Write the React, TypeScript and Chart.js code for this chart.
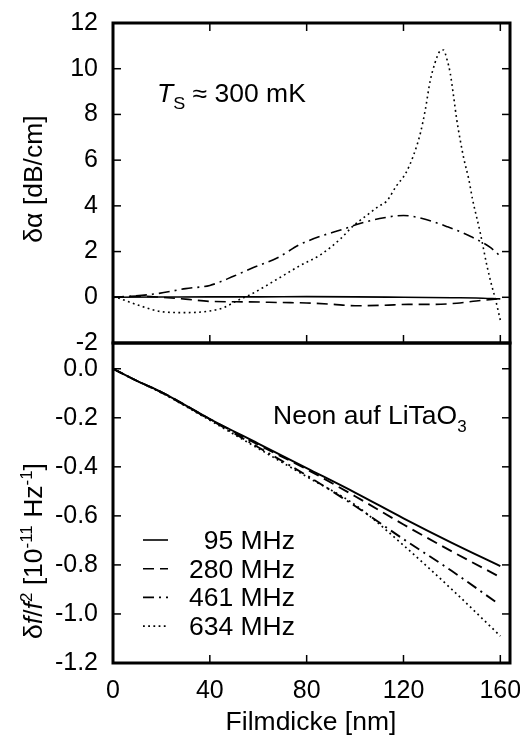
import React, { useEffect, useRef } from "react";
import { Chart, registerables } from "chart.js";
Chart.register(...registerables);

const FONT = "'Liberation Sans', Arial, Helvetica, sans-serif";
const FS = 25;
const SX = 1.06;

// ---------- data ----------
const legendLabels = ["95 MHz", "280 MHz", "461 MHz", "634 MHz"];
const xTicks = [0, 40, 80, 120, 160];
const alphaTicks = [-2, 0, 2, 4, 6, 8, 10, 12];
const freqTicks = [-1.2, -1.0, -0.8, -0.6, -0.4, -0.2, 0.0];

// top panel: δα [dB/cm] vs film thickness [nm]
const alphaX95 = [0, 20, 40, 60, 80, 100, 120, 140, 150, 160];
const alpha95 = [0, 0.01, 0.02, 0.02, 0.03, 0.02, 0.0, -0.02, -0.03, -0.07];

const alphaX280 = [0, 10, 20, 30, 40, 55, 70, 80, 90, 100, 112, 122, 132, 142, 150, 160];
const alpha280 = [0, 0.05, 0, -0.08, -0.18, -0.2, -0.23, -0.25, -0.3, -0.37, -0.35, -0.31, -0.31, -0.26, -0.16, -0.06];

const alphaX461 = [0, 8, 19, 30, 40, 50, 58, 68, 77, 86, 94, 102, 112, 120, 130, 138, 148, 156, 160];
const alpha461 = [0, 0.05, 0.17, 0.38, 0.52, 0.93, 1.3, 1.73, 2.3, 2.68, 2.94, 3.23, 3.48, 3.58, 3.38, 3.09, 2.65, 2.17, 1.8];

const alphaX634 = [0, 2, 7, 12, 20, 30, 40, 46, 51, 57, 63, 70, 77, 86, 94, 99, 105, 110, 113, 117, 121, 124, 127, 129, 131, 133, 135, 136.5, 138, 139.3, 140.7, 142, 143.4, 145, 147, 148.5, 151.7, 154.5, 156.5, 158, 160];
const alpha634 = [0, -0.03, -0.22, -0.4, -0.63, -0.67, -0.6, -0.44, -0.16, 0.13, 0.49, 0.93, 1.37, 1.88, 2.56, 3.1, 3.6, 4.0, 4.2, 4.86, 5.44, 6.17, 7.19, 8.2, 9.45, 10.25, 10.76, 10.82, 10.39, 9.81, 8.79, 7.77, 6.9, 6.03, 5.15, 4.3, 2.83, 1.37, 0.49, -0.09, -1.0];

// bottom panel: δf/f² [1e-11 Hz^-1]
const freqX = [0, 10, 20, 40, 60, 80, 100, 120, 140, 160];
const freq95 = [0, -0.05, -0.095, -0.205, -0.305, -0.405, -0.505, -0.61, -0.71, -0.805];
const freq280 = [0, -0.05, -0.095, -0.205, -0.31, -0.41, -0.52, -0.635, -0.745, -0.85];
const freqX461 = [0, 10, 20, 40, 60, 80, 100, 120, 140, 158];
const freq461 = [0, -0.05, -0.097, -0.207, -0.32, -0.435, -0.56, -0.695, -0.825, -0.95];
const freq634 = [0, -0.05, -0.098, -0.21, -0.325, -0.44, -0.555, -0.72, -0.9, -1.09];

// ---------- styles ----------
const dashes: number[][] = [[], [11, 6], [11, 5, 2, 5], [1.8, 3.4]];

function pts(xs: number[], ys: number[]) {
  return xs.map((x, i) => ({ x, y: ys[i] }));
}

type Seg = { t: string; italic?: boolean; size?: number; dy?: number };

function drawRich(ctx: CanvasRenderingContext2D, segs: Seg[], x: number, y: number, align: "left" | "center" | "right", base = FS) {
  const fontOf = (s: Seg) => `${s.italic ? "italic " : ""}${s.size ?? base}px ${FONT}`;
  let total = 0;
  for (const s of segs) {
    ctx.font = fontOf(s);
    total += ctx.measureText(s.t).width;
  }
  ctx.save();
  ctx.translate(x, y);
  ctx.scale(SX, 1);
  let cx = align === "left" ? 0 : align === "center" ? -total / 2 : -total;
  ctx.textAlign = "left";
  ctx.textBaseline = "alphabetic";
  for (const s of segs) {
    ctx.font = fontOf(s);
    ctx.fillText(s.t, cx, s.dy ?? 0);
    cx += ctx.measureText(s.t).width;
  }
  ctx.restore();
}

const decorPlugin = {
  id: "decor",
  afterDraw(chart: any) {
    const ctx: CanvasRenderingContext2D = chart.ctx;
    const xs = chart.scales.x;
    const yt = chart.scales.yTop;
    const yb = chart.scales.yBot;
    const L = chart.chartArea.left;
    const R = chart.chartArea.right;
    const TL = 8;
    ctx.save();
    ctx.strokeStyle = "#000";
    ctx.fillStyle = "#000";
    const line = (a: number, b: number, c: number, d: number) => {
      ctx.beginPath();
      ctx.moveTo(a, b);
      ctx.lineTo(c, d);
      ctx.stroke();
    };
    ctx.lineWidth = 1.5;
    for (const s of [yt, yb]) {
      for (const t of s.ticks) {
        const py = s.getPixelForValue(t.value);
        if (Math.abs(py - s.top) < 2 || Math.abs(py - s.bottom) < 2) continue;
        line(L, py, L + TL, py);
        line(R, py, R - TL, py);
      }
    }
    for (const t of xs.ticks) {
      const px = xs.getPixelForValue(t.value);
      if (Math.abs(px - L) < 2 || Math.abs(px - R) < 2) continue;
      line(px, yt.top, px, yt.top + TL);
      line(px, yt.bottom, px, yt.bottom - TL);
      line(px, yb.bottom, px, yb.bottom - TL);
    }
    ctx.lineWidth = 3;
    ctx.strokeRect(L, yt.top, R - L, yt.bottom - yt.top);
    ctx.strokeRect(L, yb.top, R - L, yb.bottom - yb.top);

    // legend
    const ds = chart.data.datasets.slice(4);
    ds.forEach((d: any, i: number) => {
      const cy = yb.top + 197 + i * 28.7;
      ctx.lineWidth = 1.6;
      ctx.setLineDash(dashes[i]);
      line(L + 30, cy, L + 55, cy);
      ctx.setLineDash([]);
      drawRich(ctx, [{ t: legendLabels[i] }], L + 182, cy + 9, "right");
    });

    // annotations
    drawRich(ctx, [
      { t: "T", italic: true },
      { t: "S", size: 17, dy: 7 },
      { t: " \u2248 300 mK" },
    ], L + 44, yt.top + 79, "left");
    drawRich(ctx, [
      { t: "Neon auf LiTaO" },
      { t: "3", size: 16, dy: 8 },
    ], L + 160, yb.top + 81, "left");

    // axis titles
    drawRich(ctx, [{ t: "Filmdicke [nm]" }], 311, 730, "center");

    ctx.save();
    ctx.translate(42, (yt.top + yt.bottom) / 2 - 4);
    ctx.rotate(-Math.PI / 2);
    drawRich(ctx, [{ t: "\u03b4\u03b1 [dB/cm]" }], 0, 0, "center");
    ctx.restore();

    ctx.save();
    ctx.translate(42, 551);
    ctx.rotate(-Math.PI / 2);
    drawRich(ctx, [
      { t: "\u03b4" },
      { t: "f", italic: true },
      { t: "/" },
      { t: "f", italic: true },
      { t: "2", size: 16, dy: -10 },
      { t: " [10" },
      { t: "-11", size: 16, dy: -10 },
      { t: " Hz" },
      { t: "-1", size: 16, dy: -10 },
      { t: "]" },
    ], 0, 0, "center");
    ctx.restore();
    ctx.restore();
  },
};

export default function App() {
  const ref = useRef<HTMLCanvasElement>(null);
  useEffect(() => {
    if (!ref.current) return;
    const mk = (label: string, data: any[], i: number, axis: string, w: number) => ({
      label,
      data,
      yAxisID: axis,
      borderColor: "#000",
      borderWidth: w,
      borderDash: dashes[i],
      pointRadius: 0,
      fill: false,
      cubicInterpolationMode: "monotone" as const,
    });
    const yAfterFit = (s: any) => {
      s.width = 113;
      s.paddingTop = 0;
      s.paddingBottom = 0;
    };
    const chart = new Chart(ref.current, {
      type: "line",
      data: {
        datasets: [
          mk(legendLabels[0], pts(alphaX95, alpha95), 0, "yTop", 1.6),
          mk(legendLabels[1], pts(alphaX280, alpha280), 1, "yTop", 1.6),
          mk(legendLabels[2], pts(alphaX461, alpha461), 2, "yTop", 1.6),
          mk(legendLabels[3], pts(alphaX634, alpha634), 3, "yTop", 1.6),
          mk(legendLabels[0], pts(freqX, freq95), 0, "yBot", 1.9),
          mk(legendLabels[1], pts(freqX, freq280), 1, "yBot", 1.9),
          mk(legendLabels[2], pts(freqX461, freq461), 2, "yBot", 1.9),
          mk(legendLabels[3], pts(freqX, freq634), 3, "yBot", 1.7),
        ],
      },
      options: {
        animation: false,
        responsive: false,
        devicePixelRatio: 1,
        layout: { padding: { left: 0, right: 10, top: 23, bottom: 0 } },
        plugins: { legend: { display: false }, tooltip: { enabled: false } },
        scales: {
          x: {
            type: "linear",
            min: 0,
            max: 164,
            grid: { display: false, drawTicks: false },
            border: { display: false },
            afterFit: (s: any) => {
              s.height = 73;
              s.paddingLeft = 0;
              s.paddingRight = 0;
            },
            afterBuildTicks: (s: any) => {
              s.ticks = xTicks.map((v) => ({ value: v }));
            },
            ticks: {
              color: "#000",
              font: { family: FONT, size: FS },
              padding: 13,
              maxRotation: 0,
              autoSkip: false,
              callback: (v: any) => String(v),
            },
          },
          yBot: {
            type: "linear",
            position: "left",
            stack: "panels",
            stackWeight: 1,
            min: -1.2,
            max: 0.105,
            grid: { display: false, drawTicks: false },
            border: { display: false },
            afterFit: yAfterFit,
            afterBuildTicks: (s: any) => {
              s.ticks = freqTicks.map((v) => ({ value: v }));
            },
            ticks: {
              color: "#000",
              font: { family: FONT, size: FS },
              padding: 15,
              autoSkip: false,
              callback: (v: any) => (Math.abs(Number(v)) < 1e-9 ? "0.0" : Number(v).toFixed(1)),
            },
          },
          yTop: {
            type: "linear",
            position: "left",
            stack: "panels",
            stackWeight: 1,
            min: -2,
            max: 12,
            grid: { display: false, drawTicks: false },
            border: { display: false },
            afterFit: yAfterFit,
            afterBuildTicks: (s: any) => {
              s.ticks = alphaTicks.map((v) => ({ value: v }));
            },
            ticks: {
              color: "#000",
              font: { family: FONT, size: FS },
              padding: 15,
              autoSkip: false,
              callback: (v: any) => String(Math.round(Number(v))),
            },
          },
        },
      },
      plugins: [decorPlugin],
    });
    return () => chart.destroy();
  }, []);
  return (
    <div style={{ position: "absolute", left: 0, top: 0, width: 520, height: 736, background: "#fff" }}>
      <canvas ref={ref} width={520} height={736} style={{ display: "block" }} />
    </div>
  );
}
